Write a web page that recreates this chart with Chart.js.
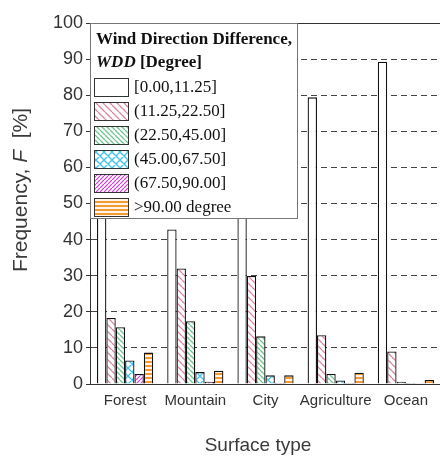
<!DOCTYPE html>
<html>
<head>
<meta charset="utf-8">
<script src="https://cdn.jsdelivr.net/npm/chart.js@4.4.0/dist/chart.umd.min.js"></script>
<style>
  html, body { margin: 0; padding: 0; background: #fff; overflow: hidden; }
  canvas { display: block; }
</style>
</head>
<body>
<canvas id="wddChart" width="450" height="457" style="width:450px;height:457px"></canvas>
<script>
// Surface types and frequency (%) of each wind direction difference bin
const categories = ['Forest', 'Mountain', 'City', 'Agriculture', 'Ocean'];
const binLabels = ['[0.00,11.25]', '(11.25,22.50]', '(22.50,45.00]', '(45.00,67.50]', '(67.50,90.00]', '>90.00 degree'];
const wdd0to11 = [48.0, 42.8, 51.8, 79.4, 89.3];
const wdd11to22 = [18.3, 32.0, 29.9, 13.5, 9.0];
const wdd22to45 = [15.7, 17.4, 13.2, 2.8, 0.6];
const wdd45to67 = [6.5, 3.3, 2.4, 1.0, 0.3];
const wdd67to90 = [2.8, 0.6, 0.3, 0.3, 0.1];
const wddOver90 = [8.7, 3.7, 2.4, 3.1, 1.1];
const yTicks = [0, 10, 20, 30, 40, 50, 60, 70, 80, 90, 100];

// hatch patterns
function hatch(kind, color, size, lw, bg) {
    const c = document.createElement('canvas');
    c.width = size; c.height = size;
    const g = c.getContext('2d');
    g.fillStyle = bg || '#fff';
    g.fillRect(0, 0, size, size);
    g.strokeStyle = color;
    g.lineWidth = lw;
    g.beginPath();
    if (kind === 'back' || kind === 'cross') {
        for (let k = -1; k <= 1; k++) { g.moveTo(k * size, 0); g.lineTo(k * size + size, size); }
    }
    if (kind === 'fwd' || kind === 'cross') {
        for (let k = -1; k <= 1; k++) { g.moveTo(k * size, size); g.lineTo(k * size + size, 0); }
    }
    if (kind === 'horiz') {
        g.moveTo(0, size / 2); g.lineTo(size, size / 2);
    }
    g.stroke();
    return g.createPattern(c, 'repeat');
}

const fills = [
    '#ffffff',
    hatch('back', '#d9869e', 7, 1.3),
    hatch('back', '#6fc490', 5, 1.3),
    hatch('cross', '#3fc4ec', 8, 1.3),
    hatch('fwd', '#d83ad8', 4, 1.2),
    hatch('horiz', '#f39a32', 4, 2, '#fff4e6')
];
const series = [wdd0to11, wdd11to22, wdd22to45, wdd45to67, wdd67to90, wddOver90];

const decor = {
    id: 'decor',
    afterDraw(chart) {
        const ctx = chart.ctx;
        const a = chart.chartArea;
        ctx.save();
        // top frame line
        ctx.strokeStyle = '#333';
        ctx.lineWidth = 1;
        ctx.beginPath();
        ctx.moveTo(a.left, a.top + 0.5);
        ctx.lineTo(a.right, a.top + 0.5);
        ctx.stroke();

        // legend box
        const lx = a.left, ly = a.top, lw = 208, lh = 196;
        ctx.fillStyle = '#fff';
        ctx.fillRect(lx, ly, lw, lh);
        ctx.strokeStyle = '#777';
        ctx.strokeRect(lx + 0.5, ly + 0.5, lw - 1, lh - 1);

        ctx.fillStyle = '#111';
        ctx.textBaseline = 'alphabetic';
        ctx.textAlign = 'left';
        ctx.font = 'bold 17px "Liberation Serif", "Times New Roman", serif';
        ctx.fillText('Wind Direction Difference,', lx + 6, ly + 21);
        ctx.font = 'italic bold 17px "Liberation Serif", "Times New Roman", serif';
        ctx.fillText('WDD', lx + 6, ly + 44);
        const w1 = ctx.measureText('WDD').width;
        ctx.font = 'bold 17px "Liberation Serif", "Times New Roman", serif';
        ctx.fillText(' [Degree]', lx + 6 + w1, ly + 44);

        ctx.font = '17px "Liberation Serif", "Times New Roman", serif';
        ctx.textBaseline = 'middle';
        binLabels.forEach((lab, i) => {
            const sy = ly + 55 + i * 24;
            ctx.fillStyle = fills[i];
            ctx.fillRect(lx + 4, sy, 35, 19);
            ctx.strokeStyle = '#333';
            ctx.strokeRect(lx + 4.5, sy + 0.5, 34, 18);
            ctx.fillStyle = '#111';
            ctx.fillText(lab, lx + 44, sy + 10);
        });

        // axis titles
        ctx.fillStyle = '#3a3a3a';
        ctx.textBaseline = 'middle';
        ctx.font = '19px "Liberation Sans", Arial, sans-serif';
        ctx.textAlign = 'center';
        ctx.fillText('Surface type', 258, 446);

        ctx.translate(21, 190);
        ctx.rotate(-Math.PI / 2);
        ctx.textAlign = 'left';
        const reg = '21px "Liberation Sans", Arial, sans-serif';
        const ita = 'italic 21px "Liberation Sans", Arial, sans-serif';
        const parts = [['Frequency, ', reg], ['F', ita], ['  [%]', reg]];
        let total = 0;
        parts.forEach(p => { ctx.font = p[1]; total += ctx.measureText(p[0]).width; });
        let x = -total / 2;
        parts.forEach(p => { ctx.font = p[1]; ctx.fillText(p[0], x, 0); x += ctx.measureText(p[0]).width; });
        ctx.restore();
    }
};

const ctx = document.getElementById('wddChart').getContext('2d');
new Chart(ctx, {
    type: 'bar',
    data: {
        labels: categories,
        datasets: series.map((d, i) => ({
            label: binLabels[i],
            data: d,
            backgroundColor: fills[i],
            borderColor: '#111',
            borderWidth: 1.3,
            categoryPercentage: 0.8,
            barPercentage: 1.0
        }))
    },
    options: {
        responsive: false,
        animation: false,
        layout: { padding: { left: 0, right: 9, top: 23, bottom: 0 } },
        plugins: { legend: { display: false }, tooltip: { enabled: false } },
        scales: {
            x: {
                grid: { display: false, drawTicks: false },
                border: { display: true, color: '#333', width: 1 },
                ticks: { color: '#333', font: { size: 15, family: '"Liberation Sans", Arial, sans-serif' }, padding: 8, maxRotation: 0, autoSkip: false },
                afterFit: s => { s.height = 73; }
            },
            y: {
                min: 0,
                max: 100,
                afterBuildTicks: s => { s.ticks = yTicks.map(v => ({ value: v })); },
                grid: { color: '#444', lineWidth: 1, drawTicks: true, tickLength: 4, tickBorderDash: [], tickColor: '#333' },
                border: { display: true, color: '#333', width: 1, dash: [6, 4] },
                ticks: { color: '#333', font: { size: 18, family: '"Liberation Sans", Arial, sans-serif' }, padding: 3 },
                afterFit: s => { s.width = 90; }
            }
        }
    },
    plugins: [decor]
});
</script>
</body>
</html>
